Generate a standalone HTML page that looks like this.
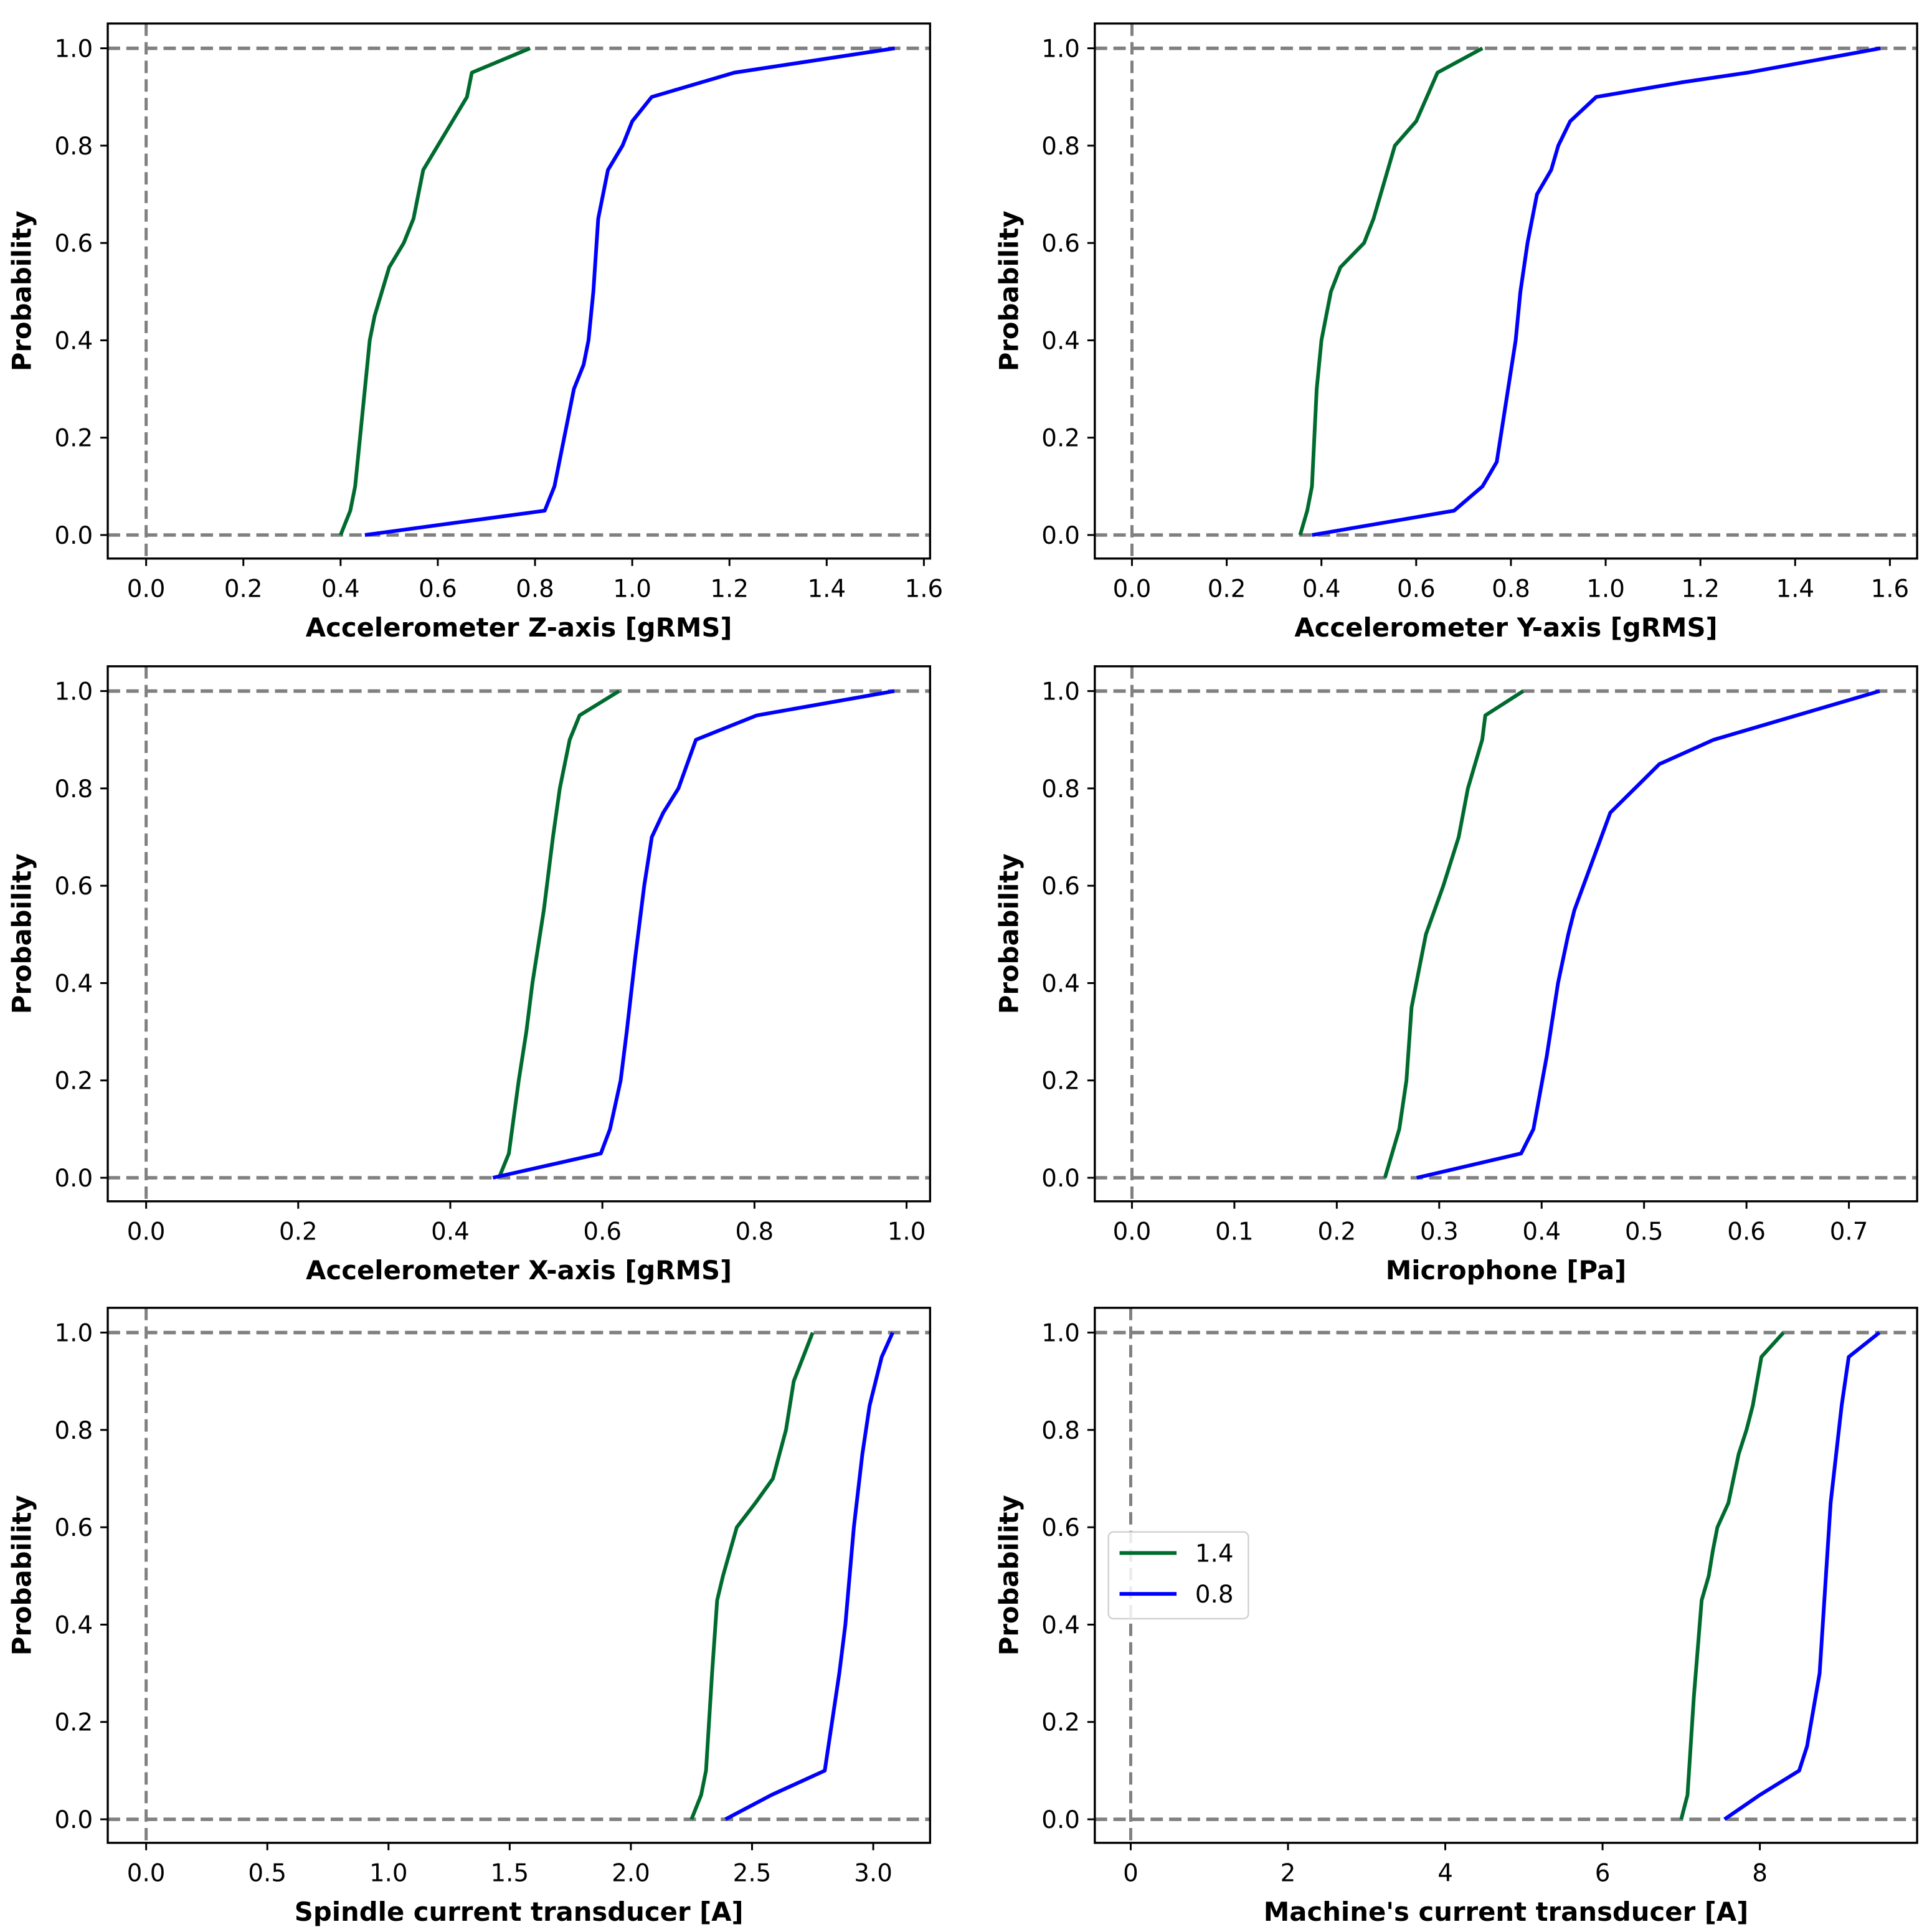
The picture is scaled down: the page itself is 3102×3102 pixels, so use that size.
<!DOCTYPE html>
<html><head><meta charset="utf-8"><style>
html,body{margin:0;padding:0;background:#fff}
svg{display:block}
text{font-family:"DejaVu Sans","Liberation Sans",sans-serif;fill:#000}
</style></head>
<body>
<svg id="fig" xmlns="http://www.w3.org/2000/svg" width="3102" height="3102" viewBox="0 0 1560 1560">
<rect x="0" y="0" width="1560" height="1560" fill="#fff"/>
</svg>
<script>
// ---- data (x value, cumulative probability) ----
const probs = [0, 0.2, 0.4, 0.6, 0.8, 1.0];
const yTickLabels = ["0.0","0.2","0.4","0.6","0.8","1.0"];

const zGreenX = [0.40,0.42,0.43,0.44,0.45,0.46,0.47,0.50,0.53,0.55,0.56,0.57,0.60,0.63,0.66,0.67,0.79];
const zGreenP = [0,0.05,0.1,0.2,0.3,0.4,0.45,0.55,0.6,0.65,0.7,0.75,0.8,0.85,0.9,0.95,1.0];
const zBlueX = [0.45,0.82,0.84,0.87,0.88,0.90,0.91,0.92,0.93,0.95,0.98,1.0,1.04,1.21,1.54];
const zBlueP = [0,0.05,0.1,0.25,0.3,0.35,0.4,0.5,0.65,0.75,0.8,0.85,0.9,0.95,1.0];
const zTicks = [0,0.2,0.4,0.6,0.8,1.0,1.2,1.4,1.6];

const yGreenX = [0.355,0.37,0.38,0.39,0.40,0.42,0.44,0.49,0.51,0.54,0.555,0.60,0.645,0.74];
const yGreenP = [0,0.05,0.1,0.3,0.4,0.5,0.55,0.6,0.65,0.75,0.8,0.85,0.95,1.0];
const yBlueX = [0.38,0.68,0.74,0.77,0.81,0.82,0.835,0.855,0.885,0.90,0.925,0.98,1.16,1.30,1.58];
const yBlueP = [0,0.05,0.1,0.15,0.4,0.5,0.6,0.7,0.75,0.8,0.85,0.9,0.93,0.95,1.0];
const yTicksX = [0,0.2,0.4,0.6,0.8,1.0,1.2,1.4,1.6];

const xGreenX = [0.464,0.477,0.49,0.50,0.508,0.523,0.535,0.544,0.557,0.57,0.622];
const xGreenP = [0,0.05,0.2,0.3,0.4,0.55,0.7,0.8,0.9,0.95,1.0];
const xBlueX = [0.456,0.598,0.61,0.624,0.632,0.643,0.655,0.665,0.68,0.70,0.723,0.803,0.984];
const xBlueP = [0,0.05,0.1,0.2,0.3,0.45,0.6,0.7,0.75,0.8,0.9,0.95,1.0];
const xTicks = [0,0.2,0.4,0.6,0.8,1.0];

const mGreenX = [0.247,0.254,0.261,0.268,0.273,0.287,0.304,0.319,0.328,0.342,0.345,0.382];
const mGreenP = [0,0.05,0.1,0.2,0.35,0.5,0.6,0.7,0.8,0.9,0.95,1.0];
const mBlueX = [0.278,0.38,0.392,0.405,0.416,0.426,0.432,0.467,0.491,0.515,0.568,0.73];
const mBlueP = [0,0.05,0.1,0.25,0.4,0.5,0.55,0.75,0.8,0.85,0.9,1.0];
const mTicks = [0,0.1,0.2,0.3,0.4,0.5,0.6,0.7];

const sGreenX = [2.25,2.29,2.31,2.335,2.356,2.38,2.437,2.514,2.586,2.64,2.672,2.75];
const sGreenP = [0,0.05,0.1,0.3,0.45,0.5,0.6,0.65,0.7,0.8,0.9,1.0];
const sBlueX = [2.39,2.58,2.80,2.83,2.86,2.885,2.92,2.955,2.985,3.035,3.08];
const sBlueP = [0,0.05,0.1,0.2,0.3,0.4,0.6,0.75,0.85,0.95,1.0];
const sTicks = [0,0.5,1.0,1.5,2.0,2.5,3.0];

const cGreenX = [7.0,7.08,7.16,7.26,7.35,7.4,7.46,7.6,7.73,7.83,7.91,8.02,8.3];
const cGreenP = [0,0.05,0.25,0.45,0.5,0.55,0.6,0.65,0.75,0.8,0.85,0.95,1.0];
const cBlueX = [7.55,8.0,8.5,8.6,8.76,8.9,9.04,9.13,9.52];
const cBlueP = [0,0.05,0.1,0.15,0.3,0.65,0.85,0.95,1.0];
const cTicks = [0,2,4,6,8];

const NS = "http://www.w3.org/2000/svg";
const svg = document.getElementById('fig');
function mk(tag, attrs, parent){
  const e = document.createElementNS(NS, tag);
  for (const k in attrs) e.setAttribute(k, attrs[k]);
  (parent||svg).appendChild(e);
  return e;
}

function panel(cfg){
  const g = mk('g', {});
  
  
  const L = cfg.left, R = cfg.left + 664, T = cfg.top, B = cfg.top + 432;
  const p1 = T + 20, p0 = T + 413;
  const sy = p => p0 + (p1 - p0) * p;
  const sx = v => cfg.x0px + (v) * cfg.pxPerUnit;
  const h0 = mk('line', {x1:L, x2:R, y1:sy(0), y2:sy(0), stroke:'#808080', 'stroke-width':2.8, 'stroke-dasharray':'10,5'}, g);
  
  
  const h1 = mk('line', {x1:L, x2:R, y1:sy(1), y2:sy(1), stroke:'#808080', 'stroke-width':2.8, 'stroke-dasharray':'10,5'}, g);
  
  
  const v0 = mk('line', {x1:sx(0), x2:sx(0), y1:T, y2:B, stroke:'#808080', 'stroke-width':2.5, 'stroke-dasharray':'10,5'}, g);
  
  
  const series = [[cfg.gx, cfg.gp, '#006b2e', 'series-1-4'], [cfg.bx, cfg.bp, '#0000ff', 'series-0-8']];
  for (const [xs, ps, col, nm] of series){
    const pts = xs.map((x, i) => sx(x).toFixed(2) + ',' + sy(ps[i]).toFixed(2)).join(' ');
    const pl = mk('polyline', {points:pts, fill:'none', stroke:col, 'stroke-width':3, 'stroke-linejoin':'round'}, g);
    
    
  }
  const fr = mk('rect', {x:L, y:T, width:664, height:432, fill:'none', stroke:'#000', 'stroke-width':1.7}, g);
  
  
  probs.forEach((p, i) => {
    mk('line', {x1:L-6, x2:L, y1:sy(p), y2:sy(p), stroke:'#000', 'stroke-width':1.5}, g);
    const t = mk('text', {x:L-12, y:sy(p)+7, 'text-anchor':'end', 'font-size':19.5}, g);
    t.textContent = yTickLabels[i];
    
    
  });
  cfg.ticks.forEach(v => {
    mk('line', {x1:sx(v), x2:sx(v), y1:B, y2:B+6, stroke:'#000', 'stroke-width':1.5}, g);
    const t = mk('text', {x:sx(v), y:B+31, 'text-anchor':'middle', 'font-size':19.5}, g);
    t.textContent = cfg.fmt(v);
    
    
  });
  const xl = mk('text', {x:(L+R)/2, y:B+63, 'text-anchor':'middle', 'font-size':21, 'font-weight':'bold'}, g);
  xl.textContent = cfg.xlabel;
  
  
  const cy = (T+B)/2, cx = L - 62;
  const yl = mk('text', {x:cx, y:cy, 'text-anchor':'middle', 'font-size':21, 'font-weight':'bold', transform:'rotate(-90 '+cx+' '+cy+')'}, g);
  yl.textContent = 'Probability';
  
  
  return {g, sy, L, T};
}

const f1 = v => v.toFixed(1);
panel({name:'panel-accel-z', left:87, top:19, x0px:118, pxPerUnit:392.5, ticks:zTicks, fmt:f1, gx:zGreenX, gp:zGreenP, bx:zBlueX, bp:zBlueP, xlabel:'Accelerometer Z-axis [gRMS]'});
panel({name:'panel-accel-y', left:884, top:19, x0px:914, pxPerUnit:382.5, ticks:yTicksX, fmt:f1, gx:yGreenX, gp:yGreenP, bx:yBlueX, bp:yBlueP, xlabel:'Accelerometer Y-axis [gRMS]'});
panel({name:'panel-accel-x', left:87, top:538, x0px:118, pxPerUnit:614, ticks:xTicks, fmt:f1, gx:xGreenX, gp:xGreenP, bx:xBlueX, bp:xBlueP, xlabel:'Accelerometer X-axis [gRMS]'});
panel({name:'panel-microphone', left:884, top:538, x0px:914, pxPerUnit:827, ticks:mTicks, fmt:f1, gx:mGreenX, gp:mGreenP, bx:mBlueX, bp:mBlueP, xlabel:'Microphone [Pa]'});
panel({name:'panel-spindle-current', left:87, top:1056, x0px:118, pxPerUnit:195.7, ticks:sTicks, fmt:f1, gx:sGreenX, gp:sGreenP, bx:sBlueX, bp:sBlueP, xlabel:'Spindle current transducer [A]'});
panel({name:'panel-machine-current', left:884, top:1056, x0px:913, pxPerUnit:63.5, ticks:cTicks, fmt:v => String(v), gx:cGreenX, gp:cGreenP, bx:cBlueX, bp:cBlueP, xlabel:"Machine's current transducer [A]"});

const lg = mk('g', {});


mk('rect', {x:895, y:1237, width:113, height:70, rx:4, fill:'#fff', 'fill-opacity':0.85, stroke:'#d0d0d0', 'stroke-width':1.2}, lg);
const lgEntries = [['1.4', '#006b2e', 1254], ['0.8', '#0000ff', 1287]];
lgEntries.forEach(([lab, col, y]) => {
  const l = mk('line', {x1:904, x2:950, y1:y, y2:y, stroke:col, 'stroke-width':3}, lg);
  
  
  const t = mk('text', {x:965, y:y+7, 'font-size':19.5}, lg);
  t.textContent = lab;
  
  
});
</script>
</body></html>
